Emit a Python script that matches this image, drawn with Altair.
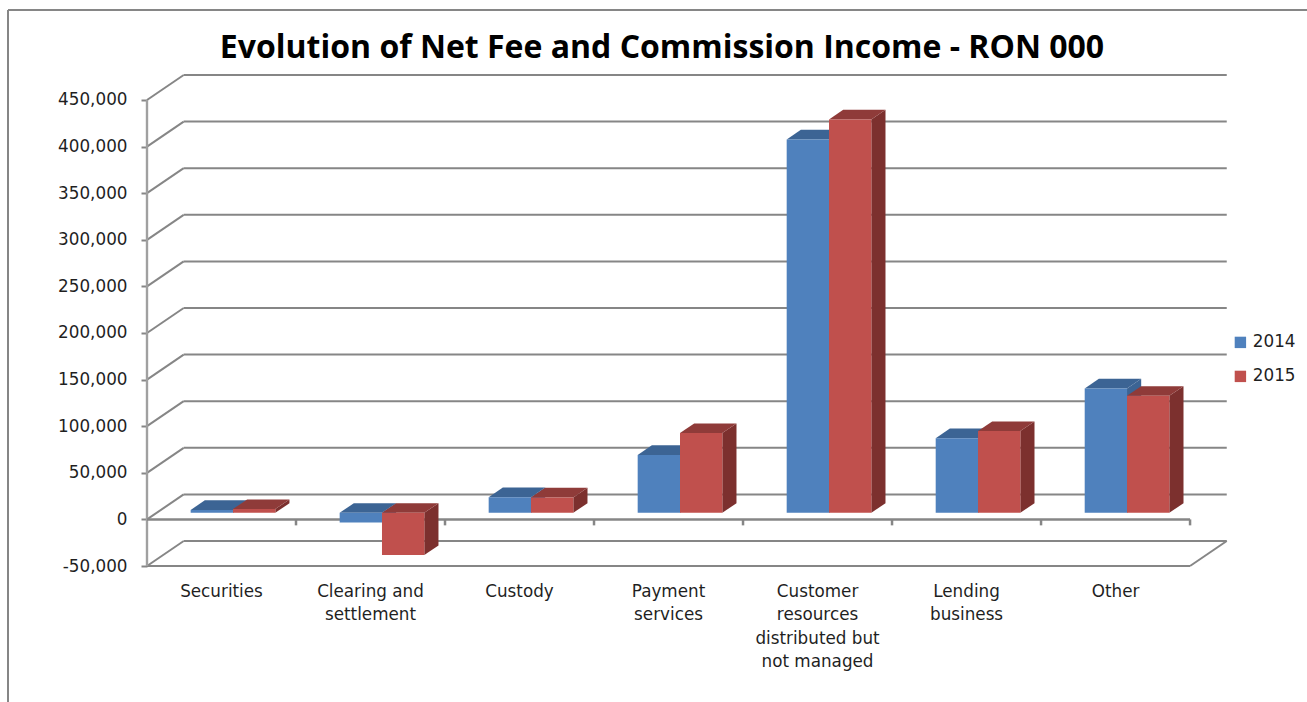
import altair as alt
import pandas as pd

# Category labels and net fee income per year, RON 000
categories = [
    "Securities",
    "Clearing and\nsettlement",
    "Custody",
    "Payment\nservices",
    "Customer\nresources\ndistributed but\nnot managed",
    "Lending\nbusiness",
    "Other",
]
values_2014 = [3000, -10300, 16800, 62000, 400600, 80100, 133500]
values_2015 = [4000, -45400, 16500, 85500, 422000, 87700, 125500]
y_ticks = [-50000, 0, 50000, 100000, 150000, 200000, 250000, 300000, 350000, 400000, 450000]

# Pseudo-3D projection, in axis units: the back wall sits up and to the right of the front plane
WALL_DX = 0.2463
WALL_DY = 26824
BAR_FRONT = 0.264
BAR_BACK = 0.65
BAR_WIDTH = 0.284
BAR_GAP = 0.228
AXIS_HALF_WIDTH = 0.008
N = len(categories)

GRID = "#868686"
AXIS = "#a0a0a0"
TEXT = "#1f1f1f"
FONT = "DejaVu Sans"

x_scale = alt.Scale(domain=[0, 7.248], nice=False, zero=False, clamp=False)
y_scale = alt.Scale(domain=[-50000, 475751], nice=False, zero=False)
X = alt.X("x:Q", scale=x_scale, axis=None)
X2 = alt.X2("x2:Q")
# Every layer carries the same axis definition so that the shared axis merges cleanly
Y = alt.Y(
    "y:Q",
    scale=y_scale,
    axis=alt.Axis(
        values=y_ticks,
        labelExpr="replace(format(datum.value, ','), '\u2212', '-')",
        title=None,
        grid=False,
        domain=False,
        tickSize=6,
        tickWidth=2,
        tickColor=GRID,
        labelPadding=14,
        labelFont=FONT,
        labelFontSize=16.8,
        labelColor=TEXT,
    ),
)
Y2 = alt.Y2("y2:Q")


def segments(rows, color, width):
    frame = pd.DataFrame(rows, columns=["x", "y", "x2", "y2"])
    return alt.Chart(frame).mark_rule(color=color, strokeWidth=width).encode(
        x=X, y=Y, x2=X2, y2=Y2
    )


# Back-wall gridlines with their slanted returns along the left wall
grid_rows = []
for v in y_ticks:
    grid_rows.append((WALL_DX, v + WALL_DY, 7 + WALL_DX, v + WALL_DY))
    grid_rows.append((0, v, WALL_DX, v + WALL_DY))
# Floor outline
grid_rows.append((0, -50000, 7, -50000))
grid_rows.append((7, -50000, 7 + WALL_DX, -50000 + WALL_DY))

grid = segments(grid_rows, GRID, 2)
# Zero baseline with its category ticks
zero_line = segments(
    [(0, 0, 7, 0)] + [(i, 0, i, -6400) for i in range(1, N + 1)], GRID, 2.5
)
# Value axis line on the front plane, drawn as a thin band
value_axis_line = (
    alt.Chart(
        pd.DataFrame(
            {
                "x": [-AXIS_HALF_WIDTH],
                "x2": [AXIS_HALF_WIDTH],
                "y": [y_ticks[0]],
                "y2": [y_ticks[-1]],
            }
        )
    )
    .mark_rect(color=AXIS)
    .encode(x=X, x2=X2, y=Y, y2=Y2)
)


def bar_corners(i, slot, value):
    left = i + BAR_GAP + slot * BAR_WIDTH + BAR_FRONT * WALL_DX
    right = left + BAR_WIDTH
    base = BAR_FRONT * WALL_DY
    return left, right, base, base + value


def face(rows, fill):
    frame = pd.DataFrame(rows, columns=["poly", "step", "x", "y"])
    return (
        alt.Chart(frame)
        .mark_line(fill=fill, strokeWidth=0, interpolate="linear")
        .encode(x=X, y=Y, order="step:Q", detail="poly:N")
    )


def series_layers(name, values, slot, side_color, top_color):
    depth_x = (BAR_BACK - BAR_FRONT) * WALL_DX
    depth_y = (BAR_BACK - BAR_FRONT) * WALL_DY
    side, top, front = [], [], []
    for i, v in enumerate(values):
        left, right, base, end = bar_corners(i, slot, v)
        upper = max(base, end)
        side += [
            (i, 0, right, base),
            (i, 1, right, end),
            (i, 2, right + depth_x, end + depth_y),
            (i, 3, right + depth_x, base + depth_y),
        ]
        top += [
            (i, 0, left, upper),
            (i, 1, right, upper),
            (i, 2, right + depth_x, upper + depth_y),
            (i, 3, left + depth_x, upper + depth_y),
        ]
        front.append((name, left, base, right, end))
    front_frame = pd.DataFrame(front, columns=["series", "x", "y", "x2", "y2"])
    front_layer = (
        alt.Chart(front_frame)
        .mark_rect()
        .encode(
            x=X,
            y=Y,
            x2=X2,
            y2=Y2,
            color=alt.Color(
                "series:N",
                scale=alt.Scale(domain=["2014", "2015"], range=["#4f81bd", "#c0504d"]),
                legend=alt.Legend(
                    title=None,
                    orient="none",
                    legendX=1085,
                    legendY=258,
                    symbolType="square",
                    symbolSize=130,
                    symbolStrokeWidth=0,
                    symbolOpacity=1,
                    rowPadding=16,
                    labelFont=FONT,
                    labelFontSize=16.8,
                    labelColor=TEXT,
                    labelOffset=4,
                ),
            ),
        )
    )
    return [face(side, side_color), face(top, top_color), front_layer]


labels = (
    alt.Chart(pd.DataFrame({"x": [i + 0.5 for i in range(N)], "label": categories}))
    .mark_text(
        baseline="top",
        align="center",
        lineBreak="\n",
        lineHeight=23.3,
        font=FONT,
        fontSize=16.8,
        color=TEXT,
    )
    .encode(x=X, y=alt.value(508), text="label:N")
)

# Outer chart border: top and left edges only
border_left = alt.Chart(pd.DataFrame({"a": [0]})).mark_rule(color=GRID, strokeWidth=2).encode(
    x=alt.value(-139), y=alt.value(-66), y2=alt.value(626)
)
border_top = alt.Chart(pd.DataFrame({"a": [0]})).mark_rule(color=GRID, strokeWidth=2).encode(
    x=alt.value(-139), x2=alt.value(1160), y=alt.value(-66)
)

chart = (
    alt.layer(
        grid,
        border_left,
        border_top,
        value_axis_line,
        zero_line,
        *series_layers("2014", values_2014, 0, "#3c6494", "#3c6494"),
        *series_layers("2015", values_2015, 1, "#7c302e", "#8f3b39"),
        labels,
    )
    .properties(
        width=1080,
        height=490,
        background="#ffffff",
        autosize=alt.AutoSizeParams(type="none"),
        padding={"left": 147, "top": 76, "right": 80, "bottom": 136},
        title=alt.TitleParams(
            "Evolution of Net Fee and Commission Income - RON 000",
            font="Open Sans",
            fontSize=32,
            fontWeight="bold",
            color="#000000",
            anchor="middle",
            frame="group",
            dx=-25,
            dy=56,
            offset=0,
        ),
    )
    .configure_view(stroke="transparent")
)

chart.save("out.html", embed_options={"renderer": "svg", "actions": False})
